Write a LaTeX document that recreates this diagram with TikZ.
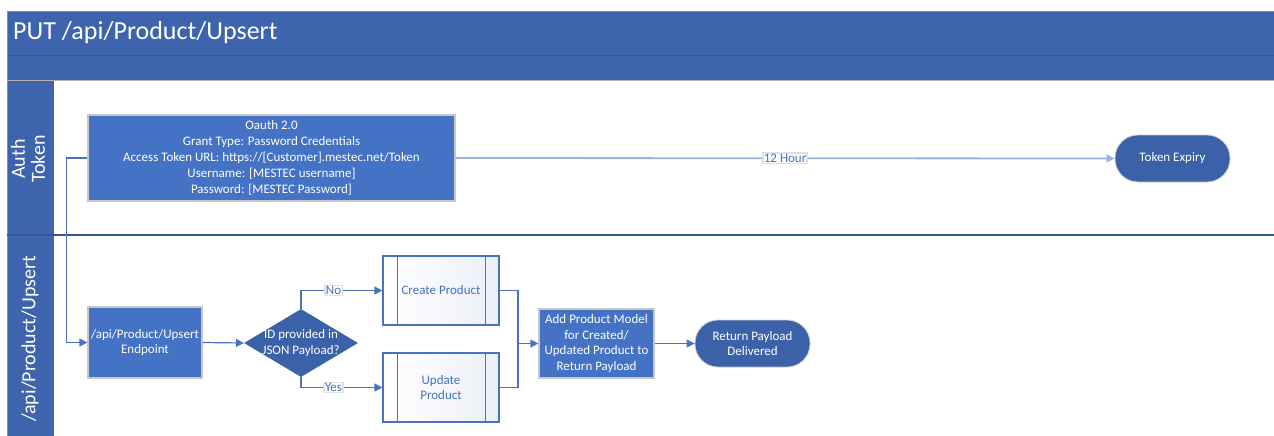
\documentclass[tikz,border=0pt]{standalone}
\usepackage{fontspec}
\setmainfont{Carlito}
\usetikzlibrary{shapes,calc,positioning,arrows.meta}
\definecolor{laneblue}{HTML}{3D64AC}
\definecolor{bandline}{HTML}{34579A}
\definecolor{boxblue}{HTML}{4472C4}
\definecolor{darkblue}{HTML}{3B61A9}
\definecolor{lineblue}{HTML}{4A72C0}
\definecolor{paleblue}{HTML}{9CB2DD}
\definecolor{procfill}{HTML}{ECEFF8}

\begin{document}
\begin{tikzpicture}[x=1pt, y=-1pt,
                every node/.append style={font=\fontsize{13}{15.6}\selectfont, align=center, inner sep=1pt},
                taskbox/.style={rectangle, fill=boxblue, draw=black!22, line width=1.2pt, text=white,
                  minimum width=115pt, minimum height=69pt},
                procbox/.style={rectangle, left color=white, right color=procfill, draw=lineblue, line width=1.2pt,
                  text=boxblue, minimum width=116pt, minimum height=69pt},
                termbox/.style={rectangle, rounded corners=23pt, fill=darkblue, draw=black!20, line width=0.8pt,
                  text=white, minimum width=115pt, minimum height=47pt},
                decbox/.style={diamond, aspect=1.68, fill=darkblue, text=white, inner sep=-3pt,
                  minimum width=114pt, minimum height=68pt},
                flow/.style={draw=lineblue, line width=1.2pt, -{Triangle[length=8pt,width=8pt]}},
                tag/.style={fill=white, draw=black!12, text=boxblue, inner sep=1pt},
                lanetext/.style={rotate=90, text=white, font=\fontsize{20}{20}\selectfont}]
                \useasboundingbox (0,0) rectangle (1274,436);
                \fill[white] (0,0) rectangle (1274,436);
                % pool header and lanes
                \fill[laneblue] (7,11) rectangle (1280,80);
                \fill[laneblue] (7,80) rectangle (54,440);
                \draw[bandline, line width=1pt] (7,56) -- (1280,56);
                \draw[black!45, line width=0.8pt] (1280,11) -- (7,11) -- (7,440);
                \draw[black!30, line width=0.6pt] (7,80) -- (1280,80);
                \draw[bandline, line width=1.6pt] (7,235) -- (1280,235);
                \node[anchor=west, text=white, font=\fontsize{26}{28}\selectfont] (pool) at (12,33) {PUT /api/Product/Upsert};
                \node[lanetext] (authlane) at (28,159) {Auth\\Token};
                \node[lanetext] (apilane) at (30,339) {/api/Product/Upsert};
                % shapes
                \node[taskbox, minimum width=367pt, minimum height=86pt, font=\fontsize{13}{16}\selectfont] (oauth) at (271.5,158)
                  {Oauth 2.0\\Grant Type: Password Credentials\\Access Token URL: https://[Customer].mestec.net/Token\\Username: [MESTEC username]\\Password: [MESTEC Password]};
                \node[termbox] (expiry) at (1172.5,158.5) {Token Expiry};
                \node[taskbox, minimum width=114pt, minimum height=71pt] (endpoint) at (145,342.5) {/api/Product/Upsert\\Endpoint};
                \node[decbox] (idgiven) at (301,343) {ID provided in\\JSON Payload?};
                \node[procbox] (create) at (441,290.5) {Create Product};
                \node[procbox] (update) at (441,387.5) {Update\\Product};
                \node[taskbox] (addmodel) at (596.5,343.5) {Add Product Model\\for Created/\\Updated Product to\\Return Payload};
                \node[termbox] (payload) at (752.5,343.5) {Return Payload\\Delivered};
                \coordinate (merge) at (518,343.5);
                \foreach \p in {create,update}{
                  \draw[lineblue, line width=1.2pt] ($(\p.north west)+(15,0)$) -- ($(\p.south west)+(15,0)$);
                  \draw[lineblue, line width=1.2pt] ($(\p.north east)+(-14,0)$) -- ($(\p.south east)+(-14,0)$);
                }
                % connectors
                \draw[flow, draw=paleblue, line width=1.8pt] (oauth.east) -- node[tag, pos=0.5] (hours) {12 Hour} (expiry.west);
                \draw[flow] (oauth.west) -- ++(-21,0) |- (endpoint.west);
                \draw[flow] (endpoint.east) -- (idgiven.west);
                \draw[flow] (idgiven.north) |- node[tag, pos=0.7] (nolabel) {No} (create.west);
                \draw[flow] (idgiven.south) |- node[tag, pos=0.7] (yeslabel) {Yes} (update.west);
                \draw[lineblue, line width=1.2pt] (create.east) -| (merge);
                \draw[lineblue, line width=1.2pt] (update.east) -| (merge);
                \draw[flow] (merge) -- (addmodel.west);
                \draw[flow] (addmodel.east) -- (payload.west);
\end{tikzpicture}
\end{document}
